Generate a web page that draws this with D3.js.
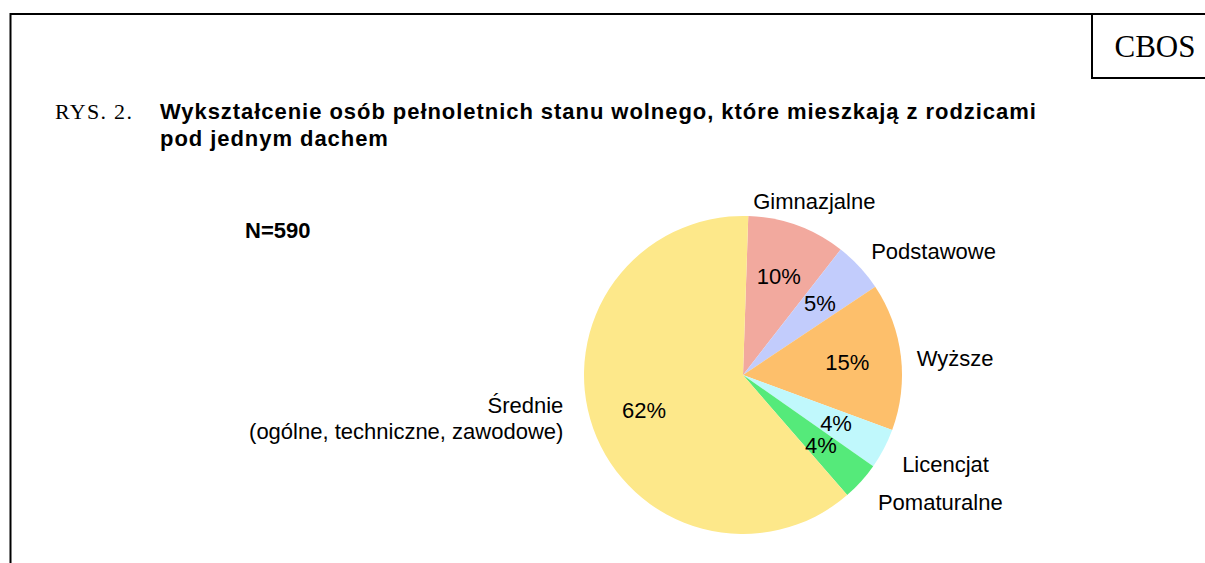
<!DOCTYPE html>
<html lang="pl">
<head>
<meta charset="UTF-8">
<title>Wykształcenie osób pełnoletnich stanu wolnego</title>
<style>
    body { margin: 0; background: #fff; }
    text { font-family: "Liberation Sans", Arial, sans-serif; fill: #000; }
    .serif { font-family: "Liberation Serif", "Times New Roman", serif; }
</style>
</head>
<body>
<script src="https://d3js.org/d3.v7.min.js"></script>
<script>
    // categories, clockwise from the top
    const categories = ["Gimnazjalne", "Podstawowe", "Wyższe", "Licencjat", "Pomaturalne", "Średnie"];
    // shares
    const shares = [10.0, 5.1, 15.0, 4.1, 3.9, 61.9];
    // printed percentage labels
    const pctLabels = ["10%", "5%", "15%", "4%", "4%", "62%"];
    const colors = ["#f2a99e", "#c2ccfc", "#fdbf6b", "#c0f8fc", "#55ea7a", "#fde88a"];

    const W = 1205, H = 563;
    const svg = d3.select("body").append("svg")
        .attr("width", W)
        .attr("height", H);

    // frame
    svg.append("line").attr("x1", 10.5).attr("y1", 14).attr("x2", W).attr("y2", 14)
        .attr("stroke", "#000").attr("stroke-width", 2);
    svg.append("line").attr("x1", 10.5).attr("y1", 13).attr("x2", 10.5).attr("y2", H)
        .attr("stroke", "#000").attr("stroke-width", 2);
    // CBOS box
    svg.append("path").attr("d", "M1092,14V78H" + W)
        .attr("fill", "none").attr("stroke", "#000").attr("stroke-width", 2);
    svg.append("text").attr("class", "serif")
        .attr("x", 1155).attr("y", 57).attr("text-anchor", "middle")
        .style("font-size", "31px").text("CBOS");

    // title
    svg.append("text").attr("class", "serif")
        .attr("x", 55).attr("y", 119)
        .style("font-size", "22px").style("letter-spacing", "1.3px").text("RYS. 2.");
    const title = svg.append("text")
        .attr("x", 160).attr("y", 119)
        .style("font-size", "22px").style("font-weight", "bold").style("letter-spacing", "0.95px");
    title.append("tspan").attr("x", 160).text("Wykształcenie osób pełnoletnich stanu wolnego, które mieszkają z rodzicami");
    title.append("tspan").attr("x", 160).attr("dy", 27).text("pod jednym dachem");

    svg.append("text")
        .attr("x", 245).attr("y", 238)
        .style("font-size", "22px").style("font-weight", "bold").text("N=590");

    // pie
    const cx = 743, cy = 375, r = 159;
    const data = categories.map((c, i) => ({cat: c, value: shares[i], pct: pctLabels[i], color: colors[i]}));
    const pie = d3.pie().sort(null).value(d => d.value)
        .startAngle(1.9 * Math.PI / 180)
        .endAngle(1.9 * Math.PI / 180 + 2 * Math.PI);
    const arcs = pie(data);
    const arc = d3.arc().innerRadius(0).outerRadius(r);
    const inArc = d3.arc().innerRadius(105).outerRadius(105);

    const g = svg.append("g").attr("transform", `translate(${cx},${cy})`);
    g.selectAll("path.slice").data(arcs).enter().append("path")
        .attr("class", "slice")
        .attr("d", arc)
        .attr("fill", d => d.data.color);

    g.selectAll("text.pct").data(arcs).enter().append("text")
        .attr("class", "pct")
        .attr("transform", d => `translate(${inArc.centroid(d)})`)
        .attr("text-anchor", "middle")
        .attr("dy", "0.35em")
        .style("font-size", "22px")
        .text(d => d.data.pct);

    // outer category labels
    arcs.forEach(d => {
        const a = (d.startAngle + d.endAngle) / 2;
        const s = Math.sin(a), c = Math.cos(a);
        const lines = d.data.cat === "Średnie" ? ["Średnie", "(ogólne, techniczne, zawodowe)"] : [d.data.cat];
        const t = g.append("text").style("font-size", "22px");
        if (Math.abs(s) < 0.5 && c > 0) {
            // near the top: centred above the slice
            t.attr("text-anchor", "middle").attr("x", s * 180 + 10).attr("y", -c * 180 - 4);
        } else if (s > 0) {
            const lr = 175 + 10 * Math.max(0, -c);
            t.attr("text-anchor", "start").attr("x", s * lr)
                .attr("y", -c * lr + 6 - 15 * Math.max(0, c));
        } else {
            t.attr("text-anchor", "end").attr("x", s * 180 - 10)
                .attr("y", -c * 180 - 26 * (lines.length - 1) / 2 - 17);
        }
        lines.forEach((l, i) => {
            t.append("tspan").attr("x", t.attr("x")).attr("dy", i === 0 ? "0.35em" : 26).text(l);
        });
    });
</script>
</body>
</html>
